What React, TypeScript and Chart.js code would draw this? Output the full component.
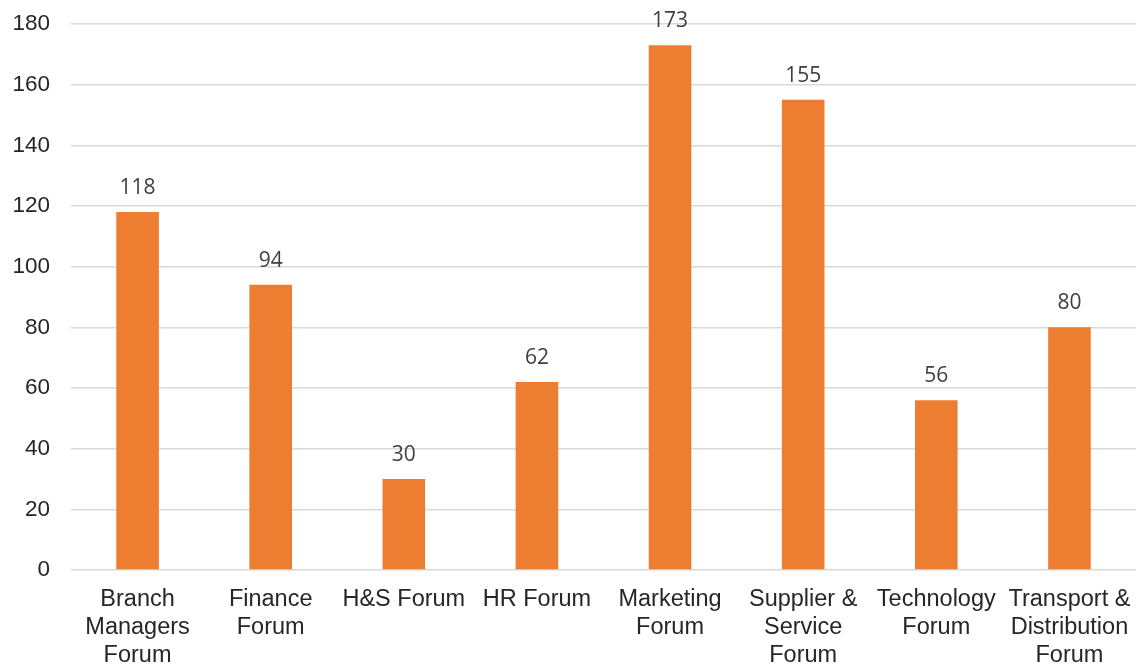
import React, { useEffect, useRef } from "react";
import { Chart, registerables } from "chart.js";

Chart.register(...registerables);

const categories: (string | string[])[] = [
  ["Branch", "Managers", "Forum"],
  ["Finance", "Forum"],
  "H&S Forum",
  "HR Forum",
  ["Marketing", "Forum"],
  ["Supplier &", "Service", "Forum"],
  ["Technology", "Forum"],
  ["Transport &", "Distribution", "Forum"],
];
const values = [118, 94, 30, 62, 173, 155, 56, 80];
const yMin = 0;
const yMax = 180;
const yStep = 20;

const barLabelPlugin = {
  id: "barLabels",
  afterDatasetsDraw(chart: any) {
    const ctx = chart.ctx;
    const meta = chart.getDatasetMeta(0);
    ctx.save();
    ctx.font = '21px "Open Sans", sans-serif';
    ctx.fillStyle = "#404040";
    ctx.textAlign = "center";
    ctx.textBaseline = "alphabetic";
    meta.data.forEach((el: any, i: number) => {
      ctx.fillText(String(values[i]), el.x, el.y - 18);
    });
    ctx.restore();
  },
};

export default function App() {
  const ref = useRef<HTMLCanvasElement | null>(null);
  useEffect(() => {
    if (!ref.current) return;
    const chart = new Chart(ref.current, {
      type: "bar",
      data: {
        labels: categories,
        datasets: [
          {
            data: values,
            backgroundColor: "#ED7D31",
            categoryPercentage: 1,
            barPercentage: 0.32,
          },
        ],
      },
      options: {
        animation: false,
        responsive: false,
        maintainAspectRatio: false,
        layout: { padding: { top: 0, right: 2, left: 0, bottom: 0 } },
        plugins: { legend: { display: false }, tooltip: { enabled: false } },
        scales: {
          x: {
            grid: { display: false, drawTicks: false },
            border: { display: false },
            ticks: {
              color: "#262626",
              font: { family: '"Liberation Sans", Arial, sans-serif', size: 23.5, lineHeight: 1.2 },
              padding: 15,
              maxRotation: 0,
              autoSkip: false,
            },
            afterFit(scale: any) {
              scale.height = 96;
              scale.paddingLeft = 0;
              scale.paddingRight = 0;
            },
          },
          y: {
            min: yMin,
            max: yMax,
            grid: { color: "#d9d9d9", lineWidth: 1.5, drawTicks: false },
            border: { display: false },
            ticks: {
              stepSize: yStep,
              color: "#262626",
              font: { family: '"Liberation Sans", Arial, sans-serif', size: 22.5 },
              padding: 21,
            },
            afterFit(scale: any) {
              scale.width = 71;
              scale.paddingTop = 24;
              scale.paddingBottom = 0;
            },
          },
        },
      },
      plugins: [barLabelPlugin],
    });
    return () => chart.destroy();
  }, []);
  return (
    <div style={{ position: "absolute", left: 0, top: 0, width: 1138, height: 666, background: "#fff" }}>
      <canvas ref={ref} width={1138} height={666} style={{ width: 1138, height: 666 }} />
    </div>
  );
}
